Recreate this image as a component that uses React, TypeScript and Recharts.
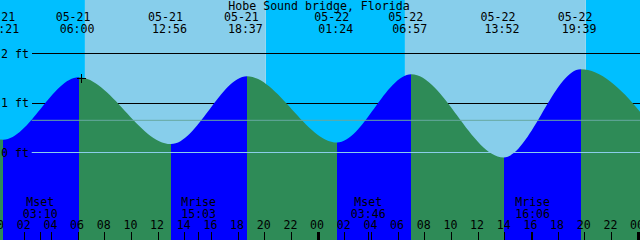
// Hobe Sound bridge tide graph, 05-21 .. 05-22
// One Area with a horizontal hard-stop gradient: blue while rising, sea green while falling.

import {
  ComposedChart, Area, XAxis, YAxis,
  ReferenceArea, ReferenceLine, ReferenceDot,
} from 'recharts'

// ─────────────────────────────────────────────────────────────
// data (hours counted from 05-21 00:00)
// ─────────────────────────────────────────────────────────────
const tideHours = [-5.95, 0.35, 6.0, 12.93, 18.62, 25.4, 30.95, 37.87, 43.65, 50.2]
const tideFeet = [1.5, 0.26, 1.52, 0.17, 1.54, 0.2, 1.58, -0.1, 1.68, 0.08]

const eventDates = ['05-21', '05-21', '05-21', '05-21', '05-22', '05-22', '05-22', '05-22']
const eventTimes = ['00:21', '06:00', '12:56', '18:37', '01:24', '06:57', '13:52', '19:39']

const sunriseHours = [6.47, 30.47]
const sunsetHours = [20.03, 44.03]

const moonHours = [3.17, 15.05, 27.77, 40.1]
const moonNames = ['Mset', 'Mrise', 'Mset', 'Mrise']
const moonTimes = ['03:10', '15:03', '03:46', '16:06']

const hourTicks = [0, 2, 4, 6, 8, 10, 12, 14, 16, 18, 20, 22, 24, 26, 28, 30, 32, 34, 36, 38, 40, 42, 44, 46, 48]
const depthTicks = [0, 1, 2]
const depthLines = [1, 2]      // black, under the water
const datumFeet = 0
const mslFeet = 0.65
const markHour = 6.21
const markFeet = 1.51

// ─────────────────────────────────────────────────────────────
// layout
// ─────────────────────────────────────────────────────────────
const W = 640
const H = 240
const PX_PER_FT = 49.5
const T_START = 0.1
const T_END = T_START + 48
const Y_MAX = 152.5 / PX_PER_FT
const Y_MIN = -(H - 152.5) / PX_PER_FT
const HALF_PX = 0.5 / PX_PER_FT
const LINE_START = 2.48

const DAY = '#87CEEB'
const NIGHT = '#00BFFF'
const RISE = '#0000FF'
const FALL = '#2E8B57'
const FONT = '"DejaVu Sans Mono", monospace'
const FS = 11.6

const eventHours = tideHours.slice(1, -1)
const data = tideHours.map((t, i) => ({ t, ft: tideFeet[i] }))

const clamp01 = (v: number) => Math.min(1, Math.max(0, v))
const stops: { offset: number; color: string }[] = []
for (let i = 0; i < tideHours.length - 1; i++) {
  const color = tideFeet[i + 1] > tideFeet[i] ? RISE : FALL
  stops.push({ offset: clamp01((tideHours[i] - T_START) / 48), color })
  stops.push({ offset: clamp01((tideHours[i + 1] - T_START) / 48), color })
}

const nights: [number, number][] = [
  [T_START, sunriseHours[0]],
  [sunsetHours[0], sunriseHours[1]],
  [sunsetHours[1], T_END],
]
const days: [number, number][] = sunriseHours.map((s, i) => [s, sunsetHours[i]])

// ─────────────────────────────────────────────────────────────
// ticks and labels
// ─────────────────────────────────────────────────────────────
interface TickProps {
  x?: number
  y?: number
  payload?: { value: number }
}

const textStyle = { fontFamily: FONT, fontSize: FS, fill: '#000' }

function BottomTick({ x = 0, payload }: TickProps) {
  const v = payload?.value ?? 0
  const px = Math.round(x)
  const mi = moonHours.indexOf(v)
  if (mi >= 0) {
    return (
      <g>
        <line x1={px - 0.5} x2={px - 0.5} y1={232} y2={240} stroke="#000" />
        <text x={x - 0.7} y={206} textAnchor="middle" style={textStyle}>{moonNames[mi]}</text>
        <text x={x - 0.7} y={217.5} textAnchor="middle" style={textStyle}>{moonTimes[mi]}</text>
      </g>
    )
  }
  const midnight = v % 24 === 0
  return (
    <g>
      {midnight
        ? <rect x={px - 2} y={232} width={3} height={8} fill="#000" />
        : <line x1={px - 0.5} x2={px - 0.5} y1={232} y2={240} stroke="#000" />}
      <text x={x - 1.6} y={229} textAnchor="middle" style={textStyle}>
        {String(v % 24).padStart(2, '0')}
      </text>
    </g>
  )
}

// date / time of each high and low, written at the top
function EventLabel({ cx = 0, index }: { cx?: number; index: number }) {
  return (
    <g>
      <text x={cx - 23} y={21} style={textStyle}>{eventDates[index]}</text>
      <text x={cx - 19} y={33} style={textStyle}>{eventTimes[index]}</text>
    </g>
  )
}

function PlusMark({ cx = 0, cy = 0 }: { cx?: number; cy?: number }) {
  const x = Math.round(cx) + 0.5
  const y = Math.round(cy) + 0.5
  return <path d={`M${x - 4.5},${y}H${x + 4.5}M${x},${y - 4.5}V${y + 4.5}`} stroke="#000" strokeWidth={1} fill="none" />
}

// ─────────────────────────────────────────────────────────────
// main
// ─────────────────────────────────────────────────────────────
export default function App() {
  return (
    <div style={{ position: 'absolute', left: 0, top: 0, width: W, height: H, overflow: 'hidden' }}>
      <ComposedChart width={W} height={H} data={data} margin={{ top: 0, right: 0, bottom: 0, left: 0 }}>
        <defs>
          <linearGradient id="tideFill" gradientUnits="userSpaceOnUse" x1={0} y1={0} x2={W} y2={0}>
            {stops.map((s, k) => (
              <stop key={k} offset={s.offset} stopColor={s.color} />
            ))}
          </linearGradient>
        </defs>

        <XAxis
          dataKey="t"
          type="number"
          domain={[T_START, T_END]}
          allowDataOverflow
          ticks={[...hourTicks, ...moonHours]}
          interval={0}
          mirror
          axisLine={false}
          tickLine={false}
          tick={<BottomTick />}
        />
        <YAxis
          type="number"
          domain={[Y_MIN, Y_MAX]}
          allowDataOverflow
          ticks={depthTicks}
          interval={0}
          mirror
          axisLine={false}
          tickLine={false}
          tickSize={0}
          tickMargin={1}
          tickFormatter={(v: number) => `${v} ft`}
          tick={textStyle}
        />

        {nights.map(([a, b], k) => (
          <ReferenceArea key={`n${k}`} x1={a} x2={b} fill={NIGHT} fillOpacity={1} stroke="none" ifOverflow="hidden" />
        ))}
        {days.map(([a, b], k) => (
          <ReferenceArea key={`d${k}`} x1={a} x2={b} fill={DAY} fillOpacity={1} stroke="none" ifOverflow="hidden" />
        ))}
        {/* depth lines: thin areas so that they sit under the water */}
        {depthLines.map((d) => (
          <ReferenceArea
            key={`l${d}`}
            x1={LINE_START}
            x2={T_END}
            y1={d - HALF_PX}
            y2={d + HALF_PX}
            fill="#000"
            fillOpacity={1}
            stroke="none"
            shapeRendering="crispEdges"
            ifOverflow="hidden"
          />
        ))}

        <Area
          dataKey="ft"
          type="monotone"
          baseValue={Y_MIN}
          fill="url(#tideFill)"
          fillOpacity={1}
          stroke="none"
          dot={false}
          activeDot={false}
          isAnimationActive={false}
        />

        <ReferenceLine
          segment={[{ x: LINE_START, y: mslFeet }, { x: T_END, y: mslFeet }]}
          stroke="#66A8A0"
          strokeWidth={1}
          ifOverflow="hidden"
        />
        <ReferenceLine
          segment={[{ x: LINE_START, y: datumFeet }, { x: T_END, y: datumFeet }]}
          stroke="#8ACDEB"
          strokeWidth={1}
          ifOverflow="hidden"
        />
        {eventHours.map((t, i) => (
          <ReferenceDot
            key={`e${i}`}
            x={t}
            y={Y_MAX}
            r={1}
            ifOverflow="visible"
            shape={(p: { cx?: number }) => <EventLabel cx={p.cx} index={i} />}
          />
        ))}
        <ReferenceDot x={markHour} y={markFeet} r={4} shape={<PlusMark />} ifOverflow="hidden" />
      </ComposedChart>
      <div
        style={{
          position: 'absolute', left: 0, top: -0.5, width: 638, textAlign: 'center',
          fontFamily: FONT, fontSize: FS, lineHeight: '12px', color: '#000', whiteSpace: 'pre',
        }}
      >
        Hobe Sound bridge, Florida
      </div>
    </div>
  )
}
